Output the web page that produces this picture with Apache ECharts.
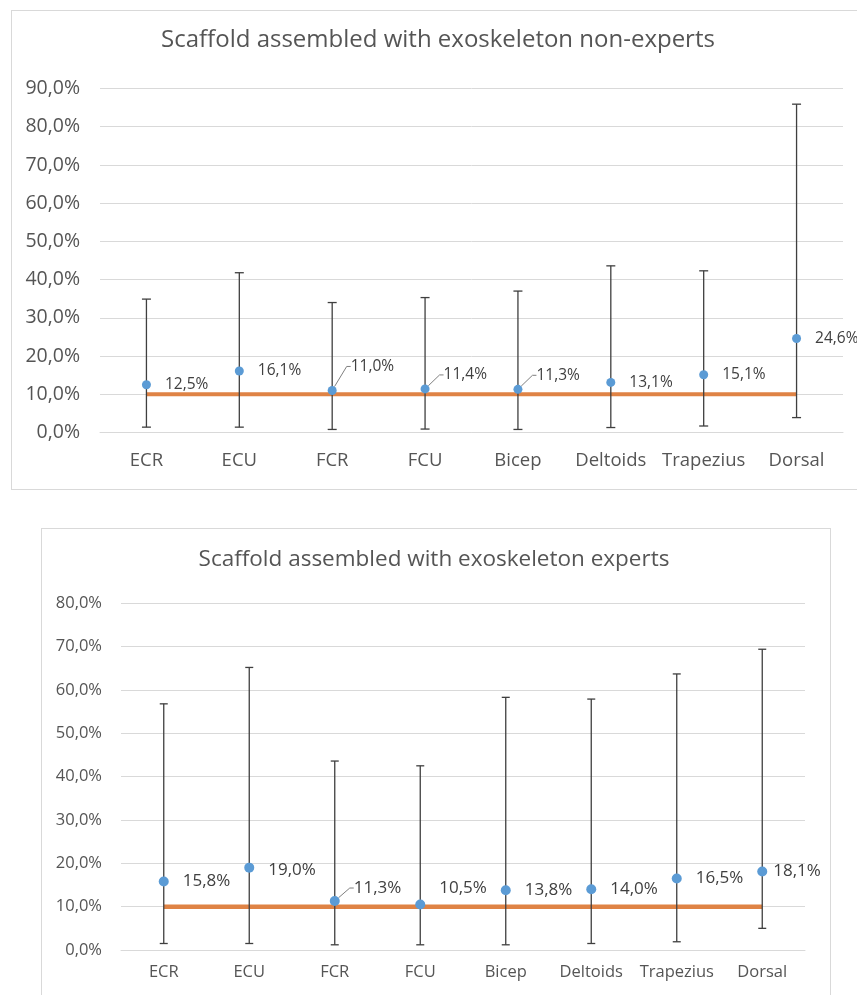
<!DOCTYPE html>
<html>
<head>
<meta charset="utf-8">
<script src="https://cdn.jsdelivr.net/npm/echarts@6/dist/echarts.min.js"></script>
<style>
  html, body { margin: 0; padding: 0; background: #ffffff; }
  #wrap { position: relative; width: 857px; height: 995px; overflow: hidden; }
  .frame { position: absolute; border: 1px solid #d9d9d9; background: #ffffff; }
  #frameTop { left: 11px; top: 10px; width: 900px; height: 478px; }
  #frameBottom { left: 41px; top: 528px; width: 788px; height: 520px; }
  #chart { position: absolute; left: 0; top: 0; width: 857px; height: 995px; }
</style>
</head>
<body>
<div id="wrap">
  <div class="frame" id="frameTop"></div>
  <div class="frame" id="frameBottom"></div>
  <div id="chart"></div>
</div>
<script>
// Muscle groups on the x axis
const categories = ['ECR', 'ECU', 'FCR', 'FCU', 'Bicep', 'Deltoids', 'Trapezius', 'Dorsal'];

// Non-experts: mean activation (%) with min / max range
const nonExpertMean = [12.5, 16.1, 11.0, 11.4, 11.3, 13.1, 15.1, 24.6];
const nonExpertLow  = [1.4, 1.4, 0.8, 0.9, 0.8, 1.3, 1.7, 3.9];
const nonExpertHigh = [34.9, 41.8, 34.0, 35.3, 37.0, 43.6, 42.3, 85.9];

// Experts: mean activation (%) with min / max range
const expertMean = [15.8, 19.0, 11.3, 10.5, 13.8, 14.0, 16.5, 18.1];
const expertLow  = [1.5, 1.5, 1.2, 1.2, 1.2, 1.5, 1.9, 5.0];
const expertHigh = [56.8, 65.2, 43.6, 42.5, 58.3, 57.9, 63.7, 69.4];

// Reference level drawn as a horizontal line
const referenceLevel = [10, 10, 10, 10, 10, 10, 10, 10];

// Y axis ranges (percent)
const nonExpertAxisMax = 90;
const expertAxisMax = 80;
const axisStep = 10;

const FONT = 'Open Sans';
const TEXT = '#555555';
const pct = v => v.toFixed(1).replace('.', ',') + '%';

// Label nudges for crowded points (by category)
const nonExpertLabelShift = { FCR: { dy: -24, line: true }, FCU: { dy: -14, line: true }, Bicep: { dy: -14, line: true } };
const expertLabelShift = { ECU: { dy: 2 }, FCR: { dy: -13, line: true }, FCU: { dy: -16 }, Dorsal: { dx: -8 } };

function errorBarSeries(gridIdx, low, high, capHalf) {
  return {
    type: 'custom',
    xAxisIndex: gridIdx, yAxisIndex: gridIdx,
    z: 3,
    silent: true,
    data: categories.map((c, i) => [i, low[i], high[i]]),
    renderItem: function (params, api) {
      const i = api.value(0);
      const top = api.coord([i, api.value(2)]);
      const bot = api.coord([i, api.value(1)]);
      const st = { stroke: '#3f3f3f', lineWidth: 1.3 };
      return {
        type: 'group',
        children: [
          { type: 'line', shape: { x1: top[0], y1: top[1], x2: bot[0], y2: bot[1] }, style: st },
          { type: 'line', shape: { x1: top[0] - capHalf, y1: top[1], x2: top[0] + capHalf, y2: top[1] }, style: st },
          { type: 'line', shape: { x1: bot[0] - capHalf, y1: bot[1], x2: bot[0] + capHalf, y2: bot[1] }, style: st }
        ]
      };
    }
  };
}

function meanSeries(gridIdx, means, shifts, labelSize, markSize, dist) {
  return {
    type: 'scatter',
    xAxisIndex: gridIdx, yAxisIndex: gridIdx,
    z: 5,
    symbolSize: markSize,
    itemStyle: { color: '#5b9bd5', opacity: 1 },
    data: means.map((v, i) => {
      const s = shifts[categories[i]];
      const item = { value: [i, v] };
      if (s && s.line) {
        item.labelLine = { show: true };
      }
      return item;
    }),
    label: {
      show: true,
      position: 'right',
      distance: dist,
      color: '#404040',
      fontFamily: FONT,
      fontSize: labelSize,
      formatter: p => pct(p.value[1])
    },
    labelLine: {
      show: false,
      length2: 4,
      lineStyle: { color: '#7f7f7f', width: 1 }
    },
    labelLayout: function (params) {
      const s = shifts[categories[params.dataIndex]];
      if (!s) return {};
      return { dx: s.dx || 0, dy: s.dy || 0 };
    }
  };
}

function refLineSeries(gridIdx, width) {
  return {
    type: 'line',
    xAxisIndex: gridIdx, yAxisIndex: gridIdx,
    z: 2,
    symbol: 'none',
    silent: true,
    lineStyle: { color: '#df8345', width: width },
    data: referenceLevel
  };
}

const chart = echarts.init(document.getElementById('chart'), null, { renderer: 'canvas' });

chart.setOption({
  animation: false,
  title: [
    {
      text: 'Scaffold assembled with exoskeleton non-experts',
      left: 438, top: 28, textAlign: 'center', padding: 0,
      textStyle: { fontFamily: FONT, fontWeight: 'normal', fontSize: 24, color: TEXT }
    },
    {
      text: 'Scaffold assembled with exoskeleton experts',
      left: 434, top: 548, textAlign: 'center', padding: 0,
      textStyle: { fontFamily: FONT, fontWeight: 'normal', fontSize: 22.5, color: TEXT }
    }
  ],
  grid: [
    { left: 100, width: 743, top: 88.5, height: 344 },
    { left: 121, width: 684, top: 603.3, height: 346.7 }
  ],
  xAxis: [
    {
      type: 'category', gridIndex: 0, data: categories, boundaryGap: true,
      axisLine: { show: true, lineStyle: { color: '#d9d9d9' } },
      axisTick: { show: false },
      axisLabel: { interval: 0, color: TEXT, fontFamily: FONT, fontSize: 18.5, margin: 19 }
    },
    {
      type: 'category', gridIndex: 1, data: categories, boundaryGap: true,
      axisLine: { show: true, lineStyle: { color: '#d9d9d9' } },
      axisTick: { show: false },
      axisLabel: { interval: 0, color: TEXT, fontFamily: FONT, fontSize: 16.5, margin: 14 }
    }
  ],
  yAxis: [
    {
      type: 'value', gridIndex: 0, min: 0, max: nonExpertAxisMax, interval: axisStep,
      axisLine: { show: false }, axisTick: { show: false },
      splitLine: { lineStyle: { color: '#d9d9d9', width: 1 } },
      axisLabel: { color: TEXT, fontFamily: FONT, fontSize: 19.5, margin: 20, formatter: v => pct(v) }
    },
    {
      type: 'value', gridIndex: 1, min: 0, max: expertAxisMax, interval: axisStep,
      axisLine: { show: false }, axisTick: { show: false },
      splitLine: { lineStyle: { color: '#d9d9d9', width: 1 } },
      axisLabel: { color: TEXT, fontFamily: FONT, fontSize: 16.5, margin: 19, formatter: v => pct(v) }
    }
  ],
  series: [
    refLineSeries(0, 4),
    errorBarSeries(0, nonExpertLow, nonExpertHigh, 4.5),
    meanSeries(0, nonExpertMean, nonExpertLabelShift, 15.5, 9, 14),
    refLineSeries(1, 4.5),
    errorBarSeries(1, expertLow, expertHigh, 4),
    meanSeries(1, expertMean, expertLabelShift, 17, 10, 14)
  ]
});
</script>
</body>
</html>
